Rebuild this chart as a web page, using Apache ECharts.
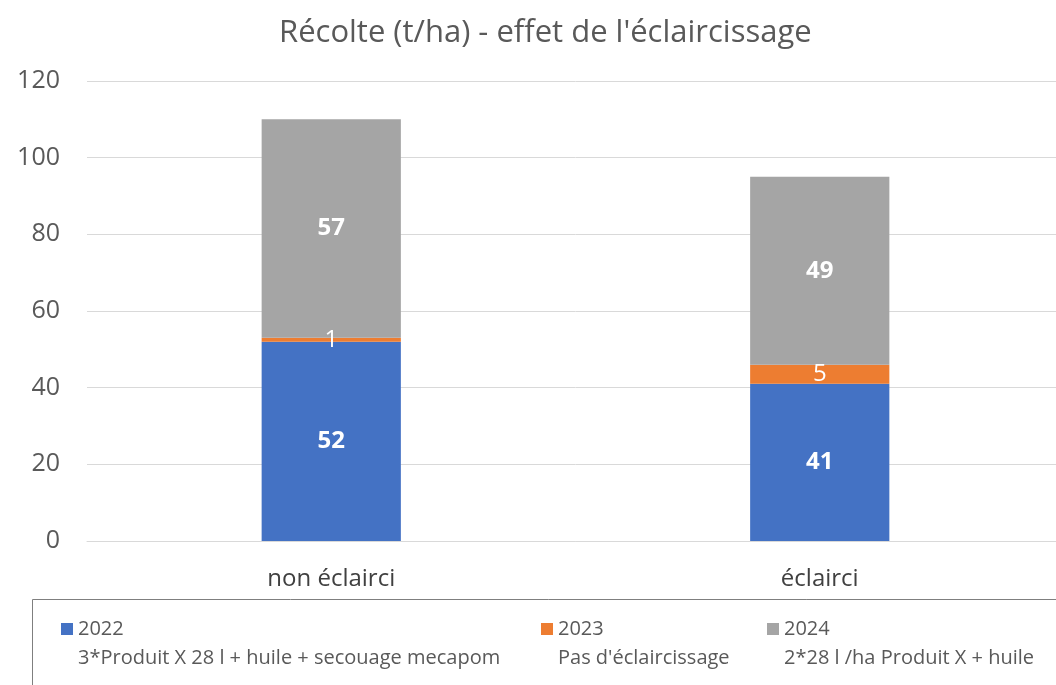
<!DOCTYPE html>
<html>
<head>
<meta charset="utf-8">
<script src="https://cdn.jsdelivr.net/npm/echarts@6/dist/echarts.min.js"></script>
<style>
html, body { margin: 0; padding: 0; background: #fff; overflow: hidden; }
#chart { width: 1064px; height: 685px; }
</style>
</head>
<body>
<div id="chart"></div>
<script>
var categories = ['non éclairci', 'éclairci'];
var years = ['2022', '2023', '2024'];
var notes = ['3*Produit X 28 l + huile + secouage mecapom', "Pas d'éclaircissage", '2*28 l /ha Produit X + huile'];
var val2022 = [52, 41];
var val2023 = [1, 5];
var val2024 = [57, 49];
var yTicks = [0, 20, 40, 60, 80, 100, 120];

var colorList = ['#4472c4', '#ed7d31', '#a5a5a5'];
var fontName = '"Open Sans", sans-serif';

// the chart is a little wider than the window, its right edge is cut off like in the original
var chart = echarts.init(document.getElementById('chart'));

function legendFor(i, left) {
    return {
        data: [years[i]],
        left: left,
        top: 585,
        icon: 'rect',
        itemWidth: 12,
        itemHeight: 12,
        itemGap: 0,
        selectedMode: false,
        formatter: function (name) {
            return '{e| }\n{a|' + name + '}\n{b|' + notes[i] + '}';
        },
        textStyle: {
            fontFamily: fontName,
            color: '#595959',
            rich: {
                e: { fontSize: 20, lineHeight: 29 },
                a: { fontSize: 20, lineHeight: 29, color: '#595959', fontFamily: fontName },
                b: { fontSize: 20, lineHeight: 29, color: '#595959', fontFamily: fontName }
            }
        }
    };
}

function makeSeries(i, data, bold) {
    return {
        name: years[i],
        type: 'bar',
        stack: 'total',
        barWidth: '28.5%',
        data: data,
        itemStyle: { color: colorList[i] },
        label: {
            show: true,
            position: 'inside',
            color: '#fff',
            fontSize: 24,
            fontWeight: bold ? 'bold' : 'normal',
            fontFamily: fontName
        }
    };
}

chart.setOption({
    animation: false,
    title: {
        text: "Récolte (t/ha) - effet de l'éclaircissage",
        left: 274,
        top: 13,
        textStyle: { fontFamily: fontName, fontSize: 31, fontWeight: 'normal', color: '#595959' }
    },
    graphic: [{
        type: 'rect',
        left: 30,
        top: 597,
        shape: { width: 1100, height: 120 },
        style: { fill: 'none', stroke: '#7f7f7f', lineWidth: 1 }
    }],
    legend: [legendFor(0, 56), legendFor(1, 536), legendFor(2, 762)],
    grid: { left: 87, right: 0, top: 81, bottom: 144 },
    xAxis: {
        type: 'category',
        data: categories,
        axisLine: { lineStyle: { color: '#d9d9d9' } },
        axisTick: { show: false },
        axisLabel: { fontFamily: fontName, fontSize: 24, color: '#404040', margin: 26 }
    },
    yAxis: {
        type: 'value',
        min: yTicks[0],
        max: yTicks[yTicks.length - 1],
        interval: 20,
        axisLine: { show: false },
        axisTick: { show: false },
        splitLine: { lineStyle: { color: '#d9d9d9' } },
        axisLabel: { fontFamily: fontName, fontSize: 25, color: '#595959', margin: 27 }
    },
    series: [
        makeSeries(0, val2022, true),
        makeSeries(1, val2023, false),
        makeSeries(2, val2024, true)
    ]
});
</script>
</body>
</html>
